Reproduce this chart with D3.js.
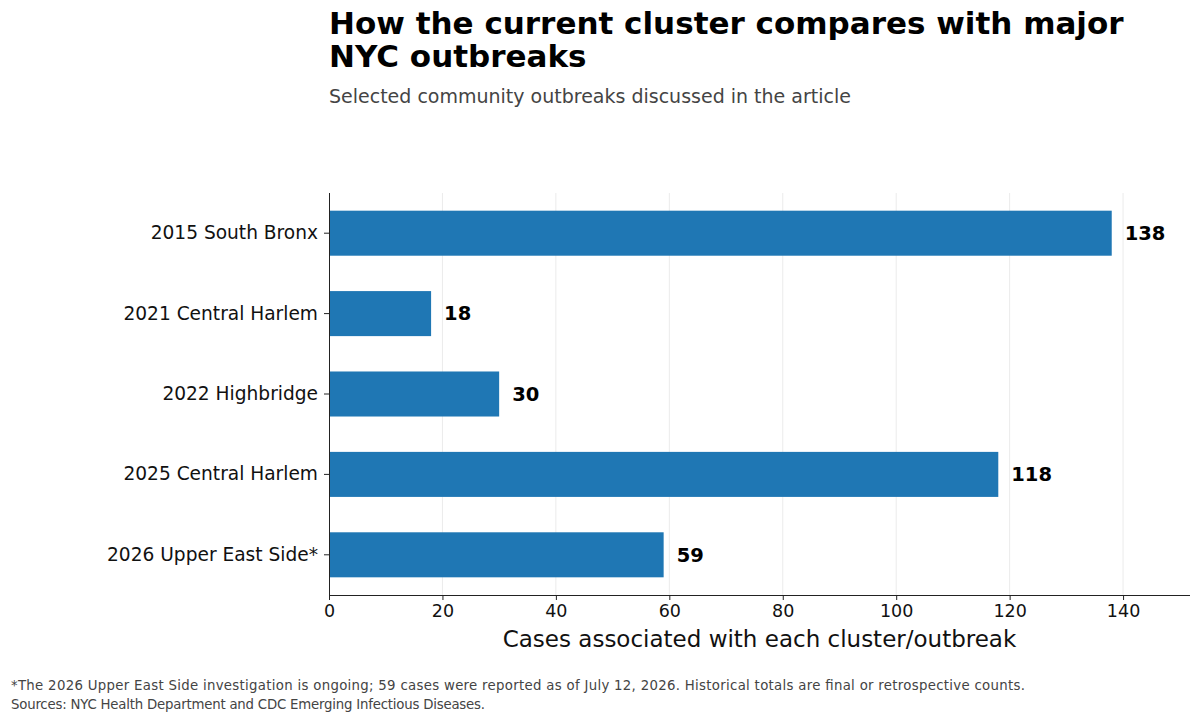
<!DOCTYPE html>
<html>
<head>
<meta charset="utf-8">
<script src="https://cdn.jsdelivr.net/npm/d3@7"></script>
<style>
  body { margin: 0; background: #fff; }
  svg text { font-family: "DejaVu Sans", sans-serif; }
</style>
</head>
<body>
<div class="container"></div>
<script>
const WIDTH = 1200;
const HEIGHT = 721;

var categories = [
  '2015 South Bronx',
  '2021 Central Harlem',
  '2022 Highbridge',
  '2025 Central Harlem',
  '2026 Upper East Side*'
];
var cases = [138, 18, 30, 118, 59];
var xTicks = [0, 20, 40, 60, 80, 100, 120, 140];

var titleLines = ['How the current cluster compares with major', 'NYC outbreaks'];
var subtitle = 'Selected community outbreaks discussed in the article';
var xLabel = 'Cases associated with each cluster/outbreak';
var notes = [
  '*The 2026 Upper East Side investigation is ongoing; 59 cases were reported as of July 12, 2026. Historical totals are final or retrospective counts.',
  'Sources: NYC Health Department and CDC Emerging Infectious Diseases.'
];

var plot = {left: 329, right: 1190, top: 193, bottom: 595};
var noteWidths = [1014, 474];

var translate = function(x, y){
  return 'translate(' + x + ',' + y + ')';
};

var svg = d3.select('.container').append('svg')
  .attr('width', WIDTH)
  .attr('height', HEIGHT);

var xScale = d3.scaleLinear()
  .domain([0, d3.max(cases) * 1.1])
  .range([plot.left, plot.right]);

var yScale = d3.scaleBand()
  .domain(categories)
  .range([plot.top, plot.bottom])
  .padding(0);

var barH = yScale.bandwidth() * 0.56;

// grid
svg.append('g').selectAll('line')
  .data(xTicks.slice(1))
  .enter().append('line')
  .attr('x1', function(d){ return xScale(d); })
  .attr('x2', function(d){ return xScale(d); })
  .attr('y1', plot.top)
  .attr('y2', plot.bottom)
  .attr('stroke', '#ebebeb')
  .attr('stroke-width', 1);

// bars
svg.append('g').selectAll('rect')
  .data(categories)
  .enter().append('rect')
  .attr('x', xScale(0))
  .attr('y', function(d){ return yScale(d) + (yScale.bandwidth() - barH) / 2; })
  .attr('width', function(d, i){ return xScale(cases[i]) - xScale(0); })
  .attr('height', barH)
  .attr('fill', '#1f77b4');

// value labels
svg.append('g').selectAll('text')
  .data(categories)
  .enter().append('text')
  .attr('x', function(d, i){ return xScale(cases[i]) + 13; })
  .attr('y', function(d){ return yScale(d) + yScale.bandwidth() / 2; })
  .attr('dy', '0.35em')
  .attr('font-size', 19.5)
  .attr('font-weight', 'bold')
  .attr('fill', '#000')
  .text(function(d, i){ return cases[i]; });

// axes
var xAxis = d3.axisBottom(xScale).tickValues(xTicks).tickSize(5).tickPadding(5);
var gx = svg.append('g')
  .attr('transform', translate(0, plot.bottom))
  .call(xAxis);
gx.select('.domain').attr('d', 'M' + plot.left + ',0.5H' + plot.right).attr('stroke', '#222');
gx.selectAll('.tick line').attr('stroke', '#222');
gx.selectAll('.tick text').attr('font-size', 17.5).attr('fill', '#111')
  .style('font-family', '"DejaVu Sans", sans-serif');

var yAxis = d3.axisLeft(yScale).tickSize(5).tickPadding(6);
var gy = svg.append('g')
  .attr('transform', translate(plot.left, 0))
  .call(yAxis);
gy.select('.domain').attr('d', 'M0.5,' + plot.top + 'V' + plot.bottom).attr('stroke', '#222');
gy.selectAll('.tick line').attr('stroke', '#222');
gy.selectAll('.tick text').attr('font-size', 18.6).attr('fill', '#111')
  .style('font-family', '"DejaVu Sans", sans-serif');

// x label
svg.append('text')
  .attr('x', (plot.left + plot.right) / 2)
  .attr('y', 647)
  .attr('text-anchor', 'middle')
  .attr('font-size', 23)
  .attr('fill', '#111')
  .text(xLabel);

// title + subtitle
svg.append('g').selectAll('text')
  .data(titleLines)
  .enter().append('text')
  .attr('x', 329)
  .attr('y', function(d, i){ return 34 + i * 33; })
  .attr('font-size', 31)
  .attr('font-weight', 'bold')
  .attr('fill', '#000')
  .text(function(d){ return d; });

svg.append('text')
  .attr('x', 329)
  .attr('y', 103)
  .attr('font-size', 19)
  .attr('fill', '#444')
  .text(subtitle);

// footnotes
svg.append('g').selectAll('text')
  .data(notes)
  .enter().append('text')
  .attr('x', 11)
  .attr('y', function(d, i){ return 690 + i * 19; })
  .attr('font-size', 13.3)
  .attr('fill', '#444')
  .attr('textLength', function(d, i){ return noteWidths[i]; })
  .attr('lengthAdjust', 'spacing')
  .text(function(d){ return d; });
</script>
</body>
</html>
